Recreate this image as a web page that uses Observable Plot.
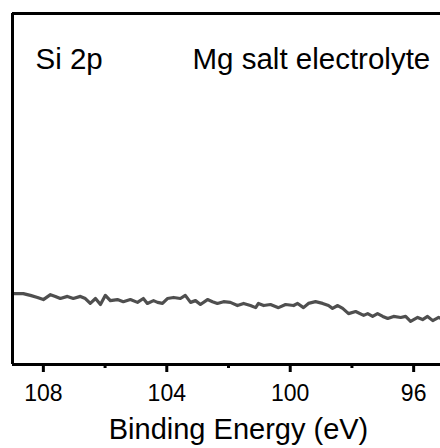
<!DOCTYPE html>
<html>
<head>
<meta charset="utf-8">
<script src="https://cdn.jsdelivr.net/npm/d3@7"></script>
<script src="https://cdn.jsdelivr.net/npm/@observablehq/plot@0.6"></script>
<style>
  html, body { margin: 0; padding: 0; background: #fff; overflow: hidden; }
  #chart svg { display: block; }
</style>
</head>
<body>
<div id="chart"></div>
<script>
const energy = [109.0, 108.65, 108.42, 108.19, 108.0, 107.77, 107.61, 107.45, 107.22, 107.03,
  106.80, 106.64, 106.48, 106.31, 106.15, 105.99, 105.83, 105.60, 105.41, 105.18,
  104.95, 104.76, 104.63, 104.43, 104.30, 104.14, 103.98, 103.78, 103.56, 103.40,
  103.23, 103.07, 102.91, 102.68, 102.52, 102.36, 102.16, 101.94, 101.71, 101.51,
  101.29, 101.12, 101.03, 100.86, 100.64, 100.38, 100.15, 99.89, 99.76, 99.57,
  99.41, 99.18, 98.95, 98.76, 98.63, 98.46, 98.30, 98.11, 97.88, 97.62,
  97.49, 97.33, 97.17, 97.00, 96.84, 96.65, 96.42, 96.26, 96.10, 95.87,
  95.71, 95.55, 95.38, 95.19, 95.10];
const intensity = [20.2, 20.2, 19.7, 19.1, 18.5, 19.9, 19.4, 18.8, 19.4, 18.8,
  19.4, 18.8, 17.4, 18.8, 17.1, 19.7, 18.2, 18.5, 17.9, 18.5,
  17.7, 18.8, 17.4, 18.2, 17.7, 17.4, 18.8, 19.1, 18.8, 19.7,
  17.7, 18.2, 17.1, 18.5, 17.9, 17.4, 17.9, 17.7, 16.8, 17.4,
  16.8, 16.2, 17.4, 16.8, 17.1, 16.2, 17.1, 16.8, 17.4, 16.2,
  17.4, 17.9, 17.4, 16.8, 16.0, 16.8, 16.0, 14.5, 15.1, 14.0,
  14.5, 13.7, 14.5, 13.7, 13.1, 13.7, 13.4, 13.7, 12.3, 13.4,
  12.8, 13.7, 12.5, 13.4, 13.1];
const majorTicks = [108, 104, 100, 96];
const minorTicks = [106, 102, 98];
const xLabel = "Binding Energy (eV)";
const elementLabel = "Si 2p";
const sampleLabel = "Mg salt electrolyte";

const data = energy.map((e, i) => ({energy: e, intensity: intensity[i]}));
const font = "'Liberation Sans', Arial, sans-serif";

const chart = Plot.plot({
  width: 440,
  height: 448,
  marginLeft: 12,
  marginRight: 0,
  marginTop: 13,
  marginBottom: 84,
  style: {fontFamily: font, background: "#fff", color: "#000"},
  x: {domain: [109, 95.13], label: null},
  y: {domain: [0, 100], axis: null},
  marks: [
    Plot.line(data, {x: "energy", y: "intensity", stroke: "#4f4f4f", strokeWidth: 3.2}),
    Plot.ruleY([0, 100], {stroke: "#000", strokeWidth: 3}),
    Plot.ruleX([109], {y1: 0, y2: 100, stroke: "#000", strokeWidth: 3}),
    Plot.axisX({ticks: majorTicks, tickSize: 8, tickPadding: 12, tickFormat: d => String(d),
      fontSize: 23, strokeWidth: 3, label: null}),
    Plot.axisX({ticks: minorTicks, tickSize: 4, tickFormat: () => "", strokeWidth: 3, label: null}),
    Plot.text([xLabel], {text: d => d, frameAnchor: "bottom", lineAnchor: "top", dx: 12, dy: 54,
      fontSize: 29, fill: "#000"}),
    Plot.text([elementLabel], {text: d => d, frameAnchor: "top-left", dx: 23, dy: 35,
      textAnchor: "start", fontSize: 29.5, fill: "#000"}),
    Plot.text([sampleLabel], {text: d => d, frameAnchor: "top-left", dx: 180, dy: 35,
      textAnchor: "start", fontSize: 29.5, fill: "#000"})
  ]
});
document.getElementById("chart").appendChild(chart);
</script>
</body>
</html>
